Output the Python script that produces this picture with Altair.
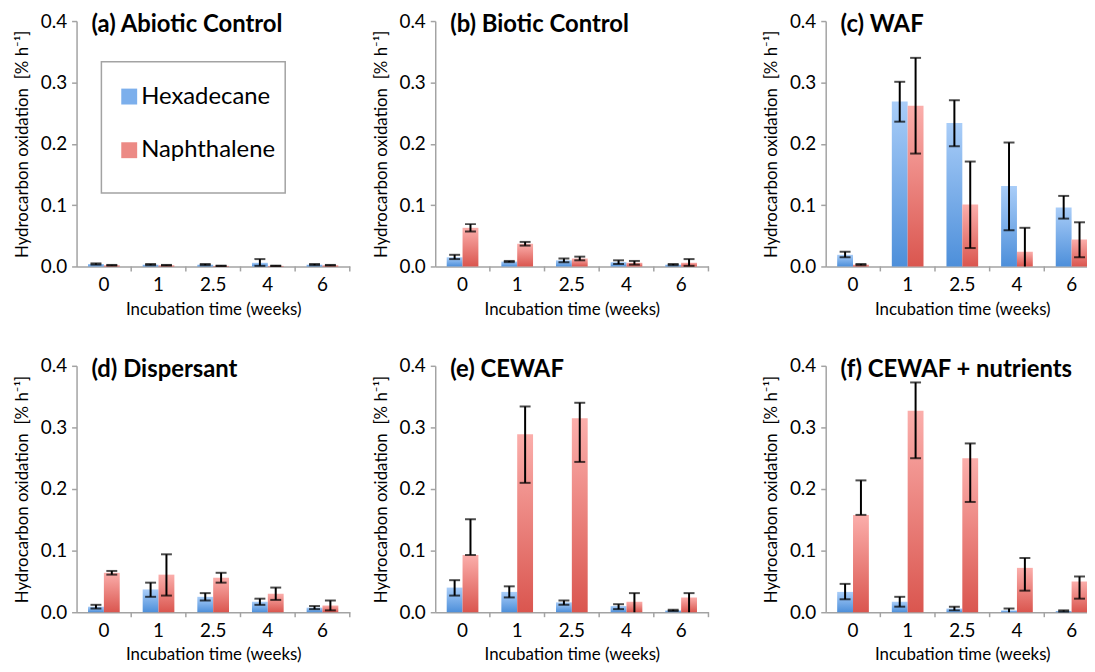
import altair as alt
import pandas as pd

categories = ["0", "1", "2.5", "4", "6"]
series = ["Hexadecane", "Naphthalene"]
titles = ["(a) Abiotic Control", "(b) Biotic Control", "(c) WAF",
          "(d) Dispersant", "(e) CEWAF", "(f) CEWAF + nutrients"]

# (a) Abiotic Control
a_hex = [0.004, 0.003, 0.003, 0.006, 0.003]
a_hex_lo = [0.003, 0.002, 0.002, 0.001, 0.002]
a_hex_hi = [0.005, 0.004, 0.004, 0.012, 0.004]
a_nap = [0.002, 0.002, 0.001, 0.001, 0.002]
a_nap_lo = [0.0015, 0.0015, 0.0007, 0.0007, 0.0015]
a_nap_hi = [0.0025, 0.0025, 0.0013, 0.0013, 0.0025]

# (b) Biotic Control
b_hex = [0.015, 0.008, 0.010, 0.007, 0.003]
b_hex_lo = [0.012, 0.007, 0.007, 0.004, 0.002]
b_hex_hi = [0.019, 0.009, 0.013, 0.010, 0.004]
b_nap = [0.063, 0.037, 0.013, 0.006, 0.006]
b_nap_lo = [0.057, 0.034, 0.010, 0.003, 0.001]
b_nap_hi = [0.069, 0.040, 0.016, 0.009, 0.012]

# (c) WAF
c_hex = [0.019, 0.269, 0.234, 0.131, 0.096]
c_hex_lo = [0.015, 0.236, 0.196, 0.059, 0.078]
c_hex_hi = [0.024, 0.301, 0.271, 0.202, 0.115]
c_nap = [0.003, 0.262, 0.101, 0.024, 0.044]
c_nap_lo = [0.002, 0.184, 0.030, 0.0, 0.015]
c_nap_hi = [0.004, 0.340, 0.171, 0.063, 0.072]

# (d) Dispersant
d_hex = [0.009, 0.037, 0.025, 0.017, 0.0075]
d_hex_lo = [0.006, 0.025, 0.019, 0.012, 0.005]
d_hex_hi = [0.012, 0.048, 0.031, 0.022, 0.010]
d_nap = [0.064, 0.061, 0.056, 0.030, 0.011]
d_nap_lo = [0.061, 0.027, 0.048, 0.020, 0.003]
d_nap_hi = [0.067, 0.094, 0.064, 0.040, 0.019]

# (e) CEWAF
e_hex = [0.040, 0.033, 0.016, 0.010, 0.003]
e_hex_lo = [0.027, 0.024, 0.012, 0.005, 0.002]
e_hex_hi = [0.052, 0.042, 0.019, 0.013, 0.004]
e_nap = [0.093, 0.289, 0.315, 0.017, 0.024]
e_nap_lo = [0.093, 0.210, 0.244, 0.0, 0.0]
e_nap_hi = [0.151, 0.334, 0.340, 0.031, 0.031]

# (f) CEWAF + nutrients
f_hex = [0.033, 0.017, 0.006, 0.003, 0.002]
f_hex_lo = [0.021, 0.009, 0.003, 0.0, 0.001]
f_hex_hi = [0.046, 0.025, 0.009, 0.006, 0.003]
f_nap = [0.158, 0.327, 0.250, 0.072, 0.050]
f_nap_lo = [0.158, 0.250, 0.179, 0.035, 0.022]
f_nap_hi = [0.214, 0.373, 0.274, 0.088, 0.058]

FONT = "Lato"
AXIS_GRAY = "#a3a3a3"

grad_blue = alt.LinearGradient(gradient="linear", x1=0, y1=0, x2=0, y2=1,
                               stops=[alt.GradientStop(color="#a9cdf8", offset=0),
                                      alt.GradientStop(color="#4d8fda", offset=1)])
grad_red = alt.LinearGradient(gradient="linear", x1=0, y1=0, x2=0, y2=1,
                              stops=[alt.GradientStop(color="#fbaeab", offset=0),
                                     alt.GradientStop(color="#da564f", offset=1)])


def make_df(hm, hl, hh, nm, nl, nh):
    rows = []
    for i, c in enumerate(categories):
        rows.append({"time": c, "series": series[0], "value": hm[i], "lo": hl[i], "hi": hh[i]})
        rows.append({"time": c, "series": series[1], "value": nm[i], "lo": nl[i], "hi": nh[i]})
    return pd.DataFrame(rows)


def panel(title, df, width, height, legend=False):
    step = width / 5.0
    x = alt.X("time:N", sort=categories,
              scale=alt.Scale(domain=categories, paddingInner=0.42, paddingOuter=0.21),
              axis=alt.Axis(title="Incubation time (weeks)", labelAngle=0, ticks=False,
                            labelPadding=9, titlePadding=7))
    xo = alt.XOffset("series:N", sort=series,
                     scale=alt.Scale(domain=series, paddingInner=0, paddingOuter=0))

    def yenc(field):
        return alt.Y(field, type="quantitative",
                     scale=alt.Scale(domain=[0, 0.4], nice=False, zero=True),
                     axis=alt.Axis(values=[0, 0.1, 0.2, 0.3, 0.4], format=".1f", grid=False,
                                   tickSize=5, labelPadding=5, titlePadding=9,
                                   title="Hydrocarbon oxidation\u00a0\u00a0[% h\u207b\u00b9]"))

    base = alt.Chart(df)
    bars_h = base.transform_filter(alt.datum.series == series[0]).mark_bar(fill=grad_blue).encode(
        x=x, xOffset=xo, y=yenc("value"))
    bars_n = base.transform_filter(alt.datum.series == series[1]).mark_bar(fill=grad_red).encode(
        x=x, xOffset=xo, y=yenc("value"))
    stem = base.mark_rule(color="black", strokeWidth=2).encode(
        x=x, xOffset=xo, y=yenc("lo"), y2="hi:Q")
    cap_hi = base.mark_tick(color="black", size=11, thickness=2).encode(
        x=x, xOffset=xo, y=yenc("hi"))
    cap_lo = base.transform_filter("datum.lo > 0").mark_tick(color="black", size=11, thickness=2).encode(
        x=x, xOffset=xo, y=yenc("lo"))

    cat_df = pd.DataFrame({"time": categories})
    bticks = alt.Chart(cat_df).transform_filter("datum.time != '0'").mark_rule(
        color=AXIS_GRAY, strokeWidth=1.5, xOffset=-step / 2).encode(
        x=x, y=alt.value(height), y2=alt.value(height + 5))
    endtick = alt.Chart(cat_df).transform_filter("datum.time == '6'").mark_rule(
        color=AXIS_GRAY, strokeWidth=1.5, xOffset=step / 2).encode(
        x=x, y=alt.value(height), y2=alt.value(height + 5))

    ttl = alt.Chart(pd.DataFrame({"t": [title]})).mark_text(
        align="left", baseline="middle", font=FONT, fontSize=24, fontWeight="bold", color="black"
    ).encode(x=alt.value(15), y=alt.value(4), text="t:N")

    layers = [bars_h, bars_n, stem, cap_hi, cap_lo, bticks, endtick, ttl]
    if legend:
        box = alt.Chart(pd.DataFrame({"b": [0]})).mark_rect(
            fillOpacity=0, stroke=AXIS_GRAY, strokeWidth=1.5).encode(
            x=alt.value(25), x2=alt.value(210), y=alt.value(41), y2=alt.value(173))
        leg = base.mark_square(opacity=0).encode(
            x=x, xOffset=xo, y=yenc("value"),
            color=alt.Color("series:N", sort=series,
                            scale=alt.Scale(domain=series, range=["#7cafec", "#ec8a85"]),
                            legend=alt.Legend(title=None, orient="none", legendX=41, legendY=64,
                                              padding=0, rowPadding=30, symbolType="square",
                                              symbolSize=256, symbolOpacity=1, symbolStrokeWidth=0,
                                              labelFontSize=24, labelFont=FONT, labelColor="black",
                                              labelOffset=0)))
        layers = [box] + layers + [leg]
    return alt.layer(*layers).properties(width=width, height=height)


pa = panel(titles[0], make_df(a_hex, a_hex_lo, a_hex_hi, a_nap, a_nap_lo, a_nap_hi), 275, 247, legend=True)
pb = panel(titles[1], make_df(b_hex, b_hex_lo, b_hex_hi, b_nap, b_nap_lo, b_nap_hi), 275, 247)
pc = panel(titles[2], make_df(c_hex, c_hex_lo, c_hex_hi, c_nap, c_nap_lo, c_nap_hi), 275, 247)
pd_ = panel(titles[3], make_df(d_hex, d_hex_lo, d_hex_hi, d_nap, d_nap_lo, d_nap_hi), 275, 248)
pe = panel(titles[4], make_df(e_hex, e_hex_lo, e_hex_hi, e_nap, e_nap_lo, e_nap_hi), 275, 248)
pf = panel(titles[5], make_df(f_hex, f_hex_lo, f_hex_hi, f_nap, f_nap_lo, f_nap_hi), 275, 248)

top = alt.hconcat(alt.hconcat(pa, pb, spacing=21), pc, spacing=53)
bottom = alt.hconcat(alt.hconcat(pd_, pe, spacing=21), pf, spacing=53)

chart = alt.vconcat(top, bottom, spacing=40).properties(
    padding={"left": 5, "top": 2, "right": -13, "bottom": 2}
).configure_view(stroke=None).configure_axis(
    domainColor=AXIS_GRAY, domainWidth=1.5, tickColor=AXIS_GRAY, tickWidth=1.5,
    labelColor="black", labelFont=FONT, labelFontSize=19,
    titleColor="black", titleFont=FONT, titleFontSize=17, titleFontWeight="normal"
)

chart.save("out.html", embed_options={"renderer": "svg", "actions": False})
